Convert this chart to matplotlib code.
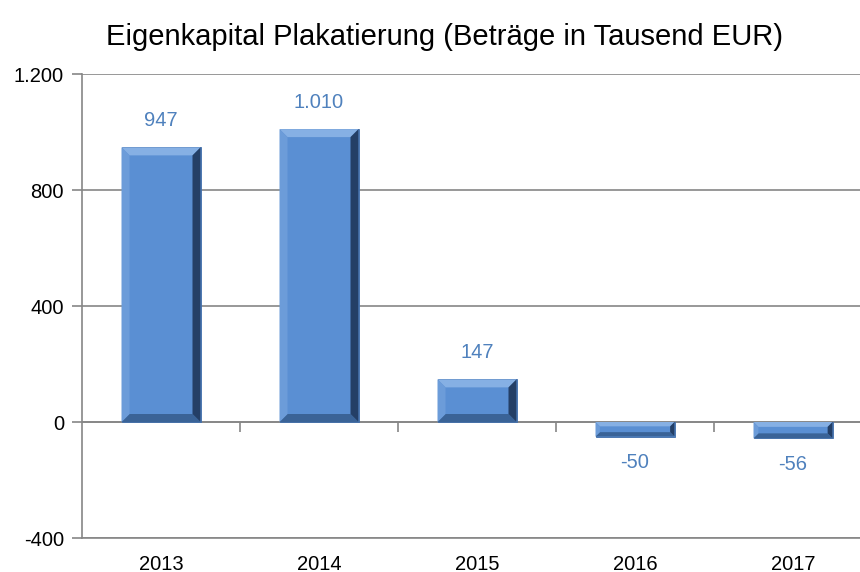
import numpy as np
import matplotlib.pyplot as plt
from matplotlib.patches import Polygon
from matplotlib.ticker import FuncFormatter

plt.rcParams['font.family'] = ['Liberation Sans', 'DejaVu Sans']

jahre = ['2013', '2014', '2015', '2016', '2017']
eigenkapital = [947, 1010, 147, -50, -56]
labels = ['947', '1.010', '147', '-50', '-56']

fig = plt.figure(figsize=(8.6, 5.72), dpi=100)
ax = fig.add_axes([82/860, 1-538/572, 790/860, (538-74)/572])

x = np.arange(len(jahre))
bars = ax.bar(x, eigenkapital, width=0.5, color='#5A8FD3', edgecolor='#3F6CA8',
              linewidth=0.6, zorder=3)

ax.set_xlim(-0.5, 4.5)
ax.set_ylim(-400, 1200)
ax.set_yticks([-400, 0, 400, 800, 1200])
ax.yaxis.set_major_formatter(FuncFormatter(lambda v, p: f'{int(v):,}'.replace(',', '.')))
ax.set_xticks(x)
ax.set_xticklabels(jahre)

grey = '#868686'
for s in ['top', 'right']:
    ax.spines[s].set_visible(False)
ax.spines['left'].set_color(grey)
ax.spines['bottom'].set_color(grey)
ax.spines['left'].set_linewidth(1.2)
ax.spines['bottom'].set_linewidth(1.2)
ax.tick_params(axis='y', colors=grey, labelcolor='black', labelsize=14.5,
               length=7, width=1.2, pad=6)
ax.tick_params(axis='x', length=0, labelsize=14.5, pad=12)
ax.yaxis.grid(True, color=grey, linewidth=1.2, zorder=0)
ax.axhline(0, color=grey, linewidth=1.2, zorder=2)
ax.plot(x[:-1] + 0.5, [0]*4, ls='', marker=3, ms=7, mew=1.2, color=grey, zorder=2)

# bevel effect
px_x = 790/5     # pixels per category
px_y = 464/1600  # pixels per unit
for b in bars:
    x0, w = b.get_x(), b.get_width()
    y0, h = b.get_y(), b.get_height()
    x1 = x0 + w
    ylo, yhi = min(y0, y0+h), max(y0, y0+h)
    hh = yhi - ylo
    by = min(8/px_y, hh*0.3)
    bx = min(8/px_x, by*px_y/px_x)
    faces = [
        ([(x0, yhi), (x1, yhi), (x1-bx, yhi-by), (x0+bx, yhi-by)], '#86B0E4'),
        ([(x0, ylo), (x1, ylo), (x1-bx, ylo+by), (x0+bx, ylo+by)], '#3A6397'),
        ([(x0, ylo), (x0, yhi), (x0+bx, yhi-by), (x0+bx, ylo+by)], '#6C9CD9'),
        ([(x1, ylo), (x1, yhi), (x1-bx, yhi-by), (x1-bx, ylo+by)], '#243F66'),
    ]
    for pts, c in faces:
        ax.add_patch(Polygon(pts, closed=True, facecolor=c, edgecolor='none', zorder=4))

for xi, v, t in zip(x, eigenkapital, labels):
    off = 19 if v >= 0 else -19
    ax.annotate(t, (xi, v), xytext=(0, off), textcoords='offset points',
                ha='center', va='center', color='#4F81BD', fontsize=14.5)

fig.text(445/860, 1-37/572, 'Eigenkapital Plakatierung (Beträge in Tausend EUR)',
         ha='center', va='center', fontsize=21)

fig.savefig('out.png', dpi=100)
